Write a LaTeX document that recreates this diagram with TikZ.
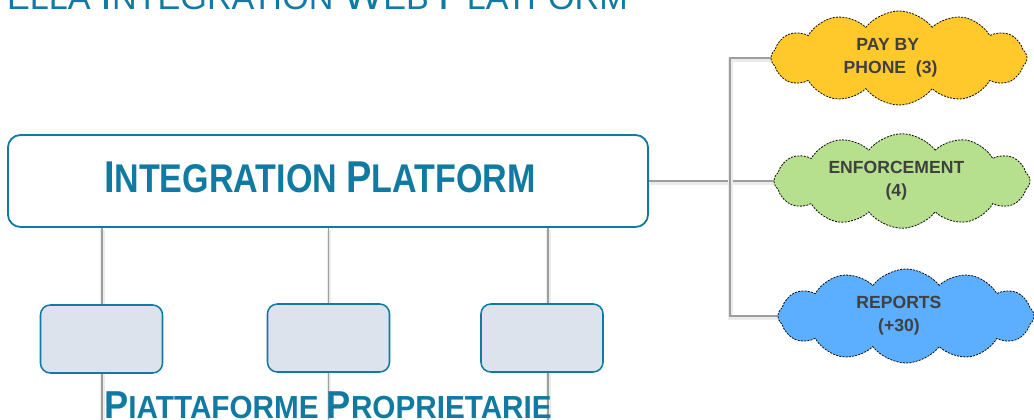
\documentclass[tikz,border=0pt]{standalone}
\usepackage{fontspec}
\setmainfont{Liberation Sans}
\usetikzlibrary{positioning,shapes.symbols,backgrounds}
\definecolor{iwpteal}{RGB}{16,122,162}
\definecolor{sysfill}{RGB}{220,227,236}
\definecolor{wiregray}{RGB}{158,158,158}
\definecolor{cloudtext}{RGB}{64,64,64}
\definecolor{payfill}{RGB}{255,201,43}
\definecolor{enffill}{RGB}{182,223,142}
\definecolor{repfill}{RGB}{92,174,255}
\newcommand{\fsz}[2]{{\fontsize{#1}{#1}\selectfont #2}}

\begin{document}
\begin{tikzpicture}[x=0.025cm, y=-0.025cm,
  platbox/.style={draw=iwpteal, line width=1.3pt, rounded corners=9pt,
    fill=white, minimum width=16cm, minimum height=2.3cm},
  sysbox/.style={draw=iwpteal, line width=1.1pt, rounded corners=7pt,
    fill=sysfill, minimum width=3.05cm, minimum height=1.7cm},
  wire/.style={draw=wiregray, line width=1.2pt,
    preaction={draw=black!8, line width=3pt,
      transform canvas={shift={(0.4pt,-1.6pt)}}}},
  svc/.style={cloud, cloud puffs=12, cloud puff arc=105,
    cloud ignores aspect, draw=black, line width=0.55pt,
    dash pattern=on 1.4pt off 0.9pt,
    minimum width=6.4cm, minimum height=2.35cm, text=cloudtext,
    font=\bfseries\fontsize{12.5}{16.5}\selectfont, align=center},
  heading/.style={text=iwpteal, inner sep=0pt}]

  \useasboundingbox (0,0) rectangle (1034,420);

  \node [heading, anchor=base east] (title) at (628,10)
        {\fontsize{24.3}{26}\selectfont ELLA \fsz{30.4}{I}NTEGRATION
         \fsz{30.4}{W}EB \fsz{30.4}{P}LATFORM};

  \node [platbox] (plat) at (328,181) {};
  \node [heading, anchor=base] (platname) at (320,192)
        {\scalebox{0.85}[1]{\bfseries\fontsize{28.5}{30}\selectfont
         \fsz{31.7}{I}NTEGRATION \fsz{31.7}{P}LATFORM}};

  \node [sysbox] (sys1) at (101.5,339) {};
  \node [sysbox] (sys2) at (328.5,338) {};
  \node [sysbox] (sys3) at (542,338) {};

  \node [heading, anchor=base] (proprie) at (328,418)
        {\scalebox{0.93}[1]{\bfseries\fontsize{22.7}{26}\selectfont
         \fsz{27.7}{P}IATTAFORME \fsz{27.7}{P}ROPRIETARIE}};

  \node [svc, fill=payfill] (pay) at (899,58)
        {PAY BY\hspace*{16pt}\\PHONE~ (3)\hspace*{12pt}};
  \node [svc, fill=enffill] (enf) at (902,181)
        {ENFORCEMENT\hspace*{8pt}\\(4)\hspace*{8pt}};
  \node [svc, fill=repfill] (rep) at (906,316)
        {REPORTS\hspace*{10pt}\\(+30)\hspace*{10pt}};

  \coordinate (l1) at (102,420);
  \coordinate (l2) at (328.5,420);
  \coordinate (l3) at (548,420);
  \coordinate (busend) at (730,316);

  \begin{scope}[on background layer]
    \draw [wire] (plat.south -| l1) -- (l1);
    \draw [wire] (plat.south -| l2) -- (l2);
    \draw [wire] (plat.south -| l3) -- (l3);
    \draw [wire] (plat.east) -- (enf.west);
    \draw [wire] (pay.west) -| (busend) -- (rep.west);
  \end{scope}

\end{tikzpicture}
\end{document}
